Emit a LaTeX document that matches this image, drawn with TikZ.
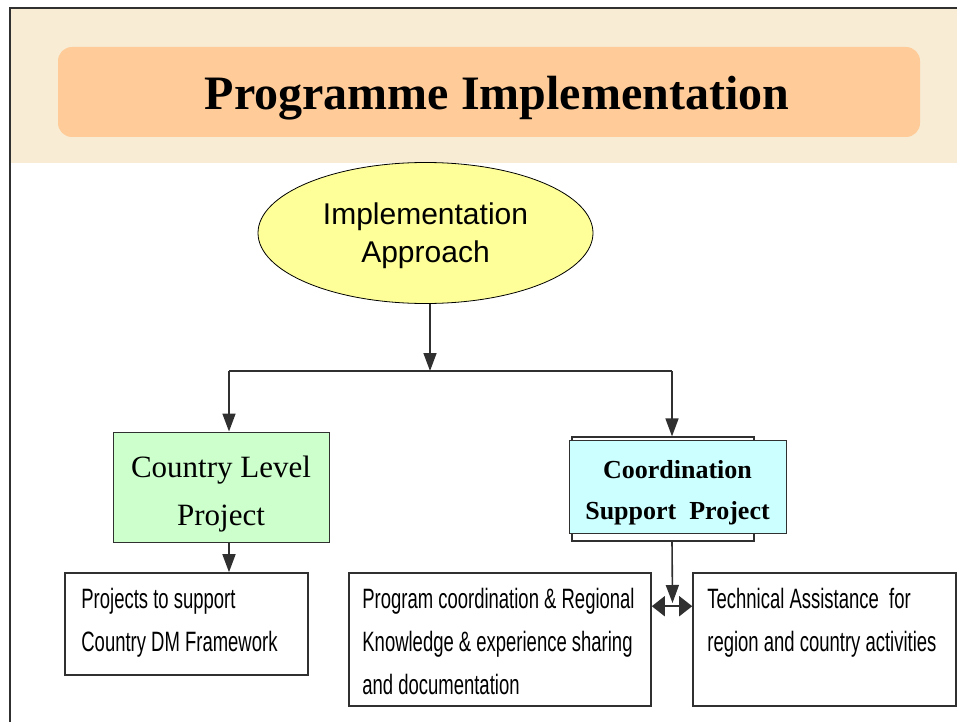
\documentclass[tikz,border=0pt]{standalone}
\usepackage{fontspec}
\setmainfont{Liberation Serif}
\newfontfamily\arial{Liberation Sans}
\newfontfamily\narrow[FakeStretch=0.66]{Liberation Sans}
\usetikzlibrary{arrows.meta,shapes.geometric,positioning}
\definecolor{bandc}{HTML}{F8ECD4}
\definecolor{titlec}{HTML}{FFCC99}
\definecolor{ellc}{HTML}{FFFF99}
\definecolor{greenc}{HTML}{CCFFCC}
\definecolor{cyanc}{HTML}{CCFFFF}
\definecolor{linec}{HTML}{303030}
\tikzset{
  conn/.style={line width=1.6pt, draw=linec},
  arr/.style={conn, -{Triangle[length=18pt,width=13pt]}},
  darr/.style={conn, {Triangle[length=13pt,width=20pt]}-{Triangle[length=13pt,width=20pt]}},
  boxout/.style={draw=linec, line width=1.6pt, fill=white, rectangle, inner sep=0pt},
  boxtxt/.style={anchor=north west, align=left, inner sep=0pt, font=\narrow\fontsize{28}{43}\selectfont},
}
\begin{document}
\begin{tikzpicture}[x=1pt,y=-1pt]
\useasboundingbox (0,0) rectangle (957,722);
% background band and frame
\fill[bandc] (10,8) rectangle (957,163);
\draw[line width=2.5pt, draw=linec] (10,722) -- (10,8) -- (957,8);
% title
\node[name=title, fill=titlec, rounded corners=14pt, minimum width=862pt, minimum height=90pt, inner sep=0pt] at (489,92) {};
\node[name=titletxt, anchor=base, font=\bfseries\fontsize{48}{56}\selectfont, inner sep=0pt] at (497,110) {Programme Implementation};
% ellipse
\node[name=ell, ellipse, draw=black, line width=0.8pt, fill=ellc, minimum width=335pt, minimum height=141pt, inner sep=0pt] at (425.5,233) {};
\node[name=elltxt, align=center, inner sep=0pt, font=\arial\fontsize{30}{38}\selectfont] at (425.5,236) {Implementation\\Approach};
% junction
\coordinate (jc) at (430,371);
\coordinate (jl) at (229,371);
\coordinate (jr) at (672,371);
% middle boxes
\node[name=green, draw=linec, line width=1pt, fill=greenc, minimum width=216pt, minimum height=110pt, inner sep=0pt] at (221,487) {};
\node[name=greentxt, align=center, inner sep=0pt, font=\fontsize{31}{48}\selectfont] at (221,494) {Country Level\\Project};
\node[name=cback, boxout, line width=1.2pt, minimum width=182pt, minimum height=104pt] at (663,489) {};
\node[name=cyan, draw=linec, line width=1pt, fill=cyanc, minimum width=217pt, minimum height=93pt, inner sep=0pt] at (677.5,486.5) {};
\node[name=cyantxt, align=center, inner sep=0pt, font=\bfseries\fontsize{26}{41}\selectfont] at (677.5,493) {Coordination\\Support\ \ Project};
% bottom boxes
\node[name=lbox, boxout, minimum width=243pt, minimum height=102pt] at (186.5,624) {};
\node[name=mbox, boxout, minimum width=302pt, minimum height=133pt] at (500,639.5) {};
\node[name=rbox, boxout, minimum width=263pt, minimum height=133pt] at (824.5,639.5) {};
\node[name=ltxt, boxtxt] at ([xshift=17pt,yshift=-16pt]lbox.north west) {Projects to support\\Country DM Framework};
\node[name=mtxt, boxtxt] at ([xshift=14pt,yshift=-16pt]mbox.north west) {Program coordination \& Regional\\Knowledge \& experience sharing\\and documentation};
\node[name=rtxt, boxtxt] at ([xshift=15pt,yshift=-16pt]rbox.north west) {Technical Assistance\ \ for\\region and country activities};
% connectors
\draw[arr] ([xshift=4.5pt]ell.south) -- (jc);
\draw[conn] (jl) -- (jr);
\draw[arr] (jl) -- (jl |- green.north);
\draw[arr] (jr) -- (jr |- cback.north);
\draw[arr] (jl |- green.south) -- (jl |- lbox.north);
\coordinate (dtip) at (672.5,603);
\draw[arr] (jr |- cback.south) -- (dtip);
\draw[darr] ([yshift=-34pt]mbox.north east) -- ([yshift=-34pt]rbox.north west);
\end{tikzpicture}
\end{document}
